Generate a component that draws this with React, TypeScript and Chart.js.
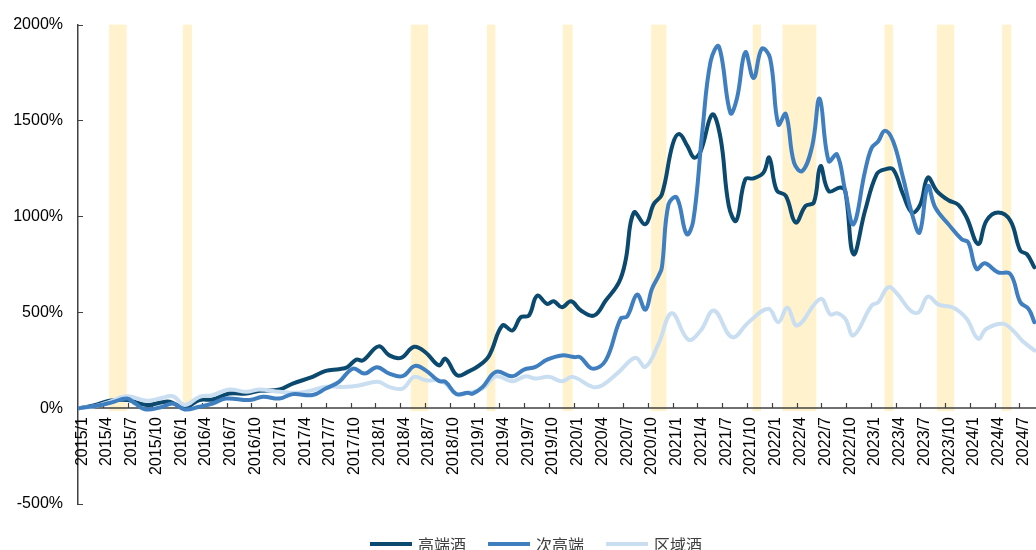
import React, { useEffect, useRef } from 'react';
import { Chart, registerables } from 'chart.js';

Chart.register(...registerables);

// Months on the horizontal axis, counted from the start of 2015/1 (2015/1 .. 2024/8)
const monthCount = 116;

// Quarterly tick labels (each sits on the first month of its quarter)
const quarterLabels: string[] = [
  '2015/1', '2015/4', '2015/7', '2015/10',
  '2016/1', '2016/4', '2016/7', '2016/10',
  '2017/1', '2017/4', '2017/7', '2017/10',
  '2018/1', '2018/4', '2018/7', '2018/10',
  '2019/1', '2019/4', '2019/7', '2019/10',
  '2020/1', '2020/4', '2020/7', '2020/10',
  '2021/1', '2021/4', '2021/7', '2021/10',
  '2022/1', '2022/4', '2022/7', '2022/10',
  '2023/1', '2023/4', '2023/7', '2023/10',
  '2024/1', '2024/4', '2024/7',
];

const seriesNames = ['高端酒', '次高端', '区域酒'];

// Cumulative return (%), [month position, value]
const highEnd: [number, number][] = [
  [0.2, 0], [2.0, 15], [3.8, 38], [6.0, 42], [8.3, 16], [9.9, 28], [11.1, 33], [12.9, 2],
  [14.7, 42], [16.3, 45], [18.3, 76], [20.4, 76], [22.0, 90], [24.4, 97], [26.0, 128],
  [28.4, 163], [30.0, 194], [31.6, 203], [32.6, 213], [33.7, 253], [34.5, 249], [36.4, 322],
  [37.7, 275], [39.1, 262], [40.7, 320], [42.1, 290], [43.7, 223], [44.5, 258], [45.9, 171],
  [47.2, 189], [48.6, 223], [49.8, 275], [51.4, 431], [52.6, 405], [53.6, 474], [54.6, 483],
  [55.6, 587], [56.8, 544], [57.6, 557], [58.6, 526], [59.7, 557], [60.9, 509], [62.5, 483],
  [63.9, 561], [65.5, 656], [66.3, 769], [67.3, 1020], [68.7, 959], [69.7, 1063], [70.7, 1115],
  [72.0, 1375], [72.8, 1430], [73.8, 1366], [74.6, 1306], [75.4, 1340], [76.8, 1531],
  [77.8, 1409], [78.8, 1055], [79.7, 977], [80.8, 1193], [81.8, 1198], [83.0, 1228],
  [83.7, 1306], [84.6, 1136], [85.7, 1107], [86.9, 968], [88.1, 1055], [89.1, 1072],
  [89.9, 1262], [90.9, 1132], [92.3, 1150], [92.9, 1132], [93.9, 803], [95.3, 1029],
  [96.7, 1219], [97.7, 1245], [98.7, 1245], [99.9, 1115], [101.0, 1020], [102.0, 1063],
  [102.9, 1202], [104.0, 1132], [105.4, 1084], [106.6, 1060], [107.6, 994], [109.0, 856],
  [110.0, 977], [111.4, 1020], [112.9, 977], [114.1, 821], [114.9, 803], [115.8, 734],
];

const subHighEnd: [number, number][] = [
  [0.2, 0], [2.6, 15], [4.1, 30], [5.9, 50], [6.9, 25], [8.1, -6], [9.9, 3], [11.5, 24],
  [12.9, -7], [14.7, 7], [16.3, 24], [17.9, 50], [20.8, 42], [22.4, 59], [24.4, 50],
  [26.0, 73], [28.4, 68], [30.0, 102], [31.6, 137], [33.3, 206], [34.7, 180], [36.2, 213],
  [37.7, 180], [39.3, 167], [40.8, 220], [42.1, 197], [43.7, 141], [44.5, 137], [45.8, 74],
  [47.2, 80], [47.8, 76], [49.0, 111], [50.6, 189], [52.6, 166], [54.0, 201], [55.4, 215],
  [56.8, 253], [58.6, 275], [60.1, 266], [60.8, 266], [62.3, 206], [63.9, 249], [65.7, 466],
  [66.5, 478], [67.7, 592], [68.7, 513], [69.5, 622], [70.3, 690], [70.7, 734], [71.5, 1063],
  [72.5, 1098], [73.7, 907], [74.5, 977], [75.6, 1444], [76.6, 1808], [77.6, 1886],
  [79.0, 1539], [79.8, 1617], [80.8, 1856], [81.8, 1721], [82.8, 1874], [83.8, 1825],
  [84.8, 1479], [85.7, 1534], [86.7, 1280], [87.7, 1236], [88.9, 1366], [89.8, 1614],
  [90.9, 1288], [91.9, 1323], [92.9, 1132], [93.9, 959], [95.3, 1236], [96.1, 1357],
  [96.9, 1392], [97.7, 1447], [98.7, 1392], [99.9, 1202], [101.0, 1011], [101.9, 916],
  [102.9, 1158], [103.8, 1046], [105.4, 959], [107.0, 881], [107.8, 864], [108.8, 726],
  [109.8, 755], [111.4, 708], [112.9, 699], [114.1, 552], [115.1, 518], [115.8, 448],
];

const regional: [number, number][] = [
  [0.2, 0], [2.0, 10], [3.8, 33], [5.9, 62], [8.3, 38], [9.9, 50], [11.5, 62], [12.9, 16],
  [14.7, 59], [16.3, 68], [18.3, 97], [20.4, 85], [22.0, 97], [24.4, 85], [26.8, 80],
  [28.4, 94], [30.0, 111], [32.5, 111], [34.1, 119], [36.3, 137], [37.7, 111], [39.3, 102],
  [40.7, 163], [42.1, 145], [43.7, 145], [44.5, 128], [45.8, 73], [47.3, 80], [49.0, 102],
  [50.6, 166], [52.6, 140], [54.2, 166], [55.4, 154], [57.0, 163], [58.6, 140], [59.9, 163],
  [62.3, 111], [63.5, 119], [65.5, 189], [67.5, 263], [68.7, 215], [70.3, 336], [71.9, 495],
  [73.9, 357], [75.4, 405], [77.0, 509], [79.2, 370], [81.2, 448], [83.6, 518], [84.8, 448],
  [85.9, 523], [87.1, 431], [89.9, 570], [91.1, 488], [91.9, 495], [92.9, 466], [93.9, 379],
  [96.1, 535], [96.9, 552], [98.1, 630], [99.2, 596], [100.8, 509], [101.8, 500],
  [102.9, 582], [104.2, 540], [106.0, 523], [107.6, 466], [109.0, 362], [110.0, 414],
  [112.0, 440], [113.2, 405], [114.3, 353], [115.8, 301],
];

// Highlighted periods, [start month, end month]
const shadedPeriods: [number, number][] = [
  [3.75, 5.9], [12.7, 13.8], [40.3, 42.4], [49.5, 50.55], [58.7, 59.9], [69.4, 71.25],
  [81.7, 82.7], [85.3, 89.4], [97.65, 98.7], [104.0, 106.1], [111.9, 113.0],
];

const yTicks = [-500, 0, 500, 1000, 1500, 2000];

const colors = ['#0B4A6E', '#3F7FC0', '#CADEF2'];
const bandColor = '#FFF2CC';
const axisColor = '#404040';
const latinFont = '"Liberation Sans", Arial, sans-serif';
const cjkFont = '"Noto Sans CJK SC", "Noto Sans", sans-serif';

const decorPlugin = {
  id: 'decor',
  beforeDatasetsDraw(chart: any) {
    const { ctx, scales } = chart;
    const x = scales.x;
    const y = scales.y;
    const top = y.getPixelForValue(2000);
    const zero = y.getPixelForValue(0);
    ctx.save();
    ctx.fillStyle = bandColor;
    for (const [a, b] of shadedPeriods) {
      const x0 = x.getPixelForValue(a);
      const x1 = x.getPixelForValue(b);
      ctx.fillRect(x0, top, x1 - x0, zero + 3 - top);
    }
    // horizontal axis along 0%
    ctx.strokeStyle = axisColor;
    ctx.lineWidth = 1.5;
    ctx.beginPath();
    ctx.moveTo(chart.chartArea.left, zero);
    ctx.lineTo(chart.chartArea.right, zero);
    ctx.stroke();
    ctx.lineWidth = 1.2;
    ctx.beginPath();
    for (let m = 3; m < monthCount; m += 3) {
      const px = Math.round(x.getPixelForValue(m)) + 0.5;
      ctx.moveTo(px, zero - 5);
      ctx.lineTo(px, zero);
    }
    // inward ticks on the value axis
    for (const v of yTicks) {
      const py = Math.round(y.getPixelForValue(v)) + 0.5;
      ctx.moveTo(chart.chartArea.left, py);
      ctx.lineTo(chart.chartArea.left + 5, py);
    }
    ctx.stroke();
    ctx.restore();
  },
  afterDraw(chart: any) {
    const { ctx, scales } = chart;
    const x = scales.x;
    const y = scales.y;
    const zero = y.getPixelForValue(0);
    ctx.save();
    // rotated quarter labels under the 0% axis
    ctx.fillStyle = '#000';
    ctx.font = `16px ${latinFont}`;
    ctx.textAlign = 'right';
    ctx.textBaseline = 'middle';
    quarterLabels.forEach((label, i) => {
      const px = x.getPixelForValue(i * 3 + 0.5);
      ctx.save();
      ctx.translate(px, zero + 9);
      ctx.rotate(-Math.PI / 2);
      ctx.fillText(label, 0, 0);
      ctx.restore();
    });
    // legend
    const legendY = 544;
    let lx = 370;
    ctx.font = `16px ${cjkFont}`;
    ctx.textAlign = 'left';
    ctx.textBaseline = 'middle';
    seriesNames.forEach((name, i) => {
      ctx.fillStyle = colors[i];
      ctx.fillRect(lx, legendY - 2, 42, 4);
      lx += 48;
      ctx.fillStyle = '#404040';
      ctx.fillText(name, lx, legendY + 1);
      lx += ctx.measureText(name).width + 22;
    });
    ctx.restore();
  },
};

export default function App() {
  const canvasRef = useRef<HTMLCanvasElement | null>(null);

  useEffect(() => {
    document.body.style.margin = '0';
    const canvas = canvasRef.current;
    if (!canvas) return;
    const toPoints = (arr: [number, number][]) => arr.map(([m, v]) => ({ x: m, y: v }));
    const allSeries = [highEnd, subHighEnd, regional];
    const drawOrder = [3, 1, 2];
    const chart = new Chart(canvas, {
      type: 'line',
      data: {
        datasets: allSeries.map((s, i) => ({
          label: seriesNames[i],
          data: toPoints(s),
          borderColor: colors[i],
          backgroundColor: colors[i],
          borderWidth: 4,
          pointRadius: 0,
          tension: 0.4,
          fill: false,
          order: drawOrder[i],
          borderJoinStyle: 'round' as const,
          borderCapStyle: 'round' as const,
        })),
      },
      options: {
        responsive: false,
        animation: false,
        events: [],
        layout: { padding: { top: 23, bottom: 46, left: 0, right: 0 } },
        plugins: {
          legend: { display: false },
          tooltip: { enabled: false },
        },
        scales: {
          x: {
            type: 'linear',
            min: 0,
            max: monthCount,
            display: false,
          },
          y: {
            min: -500,
            max: 2000,
            afterFit(scale: any) {
              scale.width = 78;
            },
            afterBuildTicks(scale: any) {
              scale.ticks = yTicks.map((v) => ({ value: v }));
            },
            ticks: {
              padding: 15,
              color: '#000',
              font: { family: latinFont, size: 16 },
              callback: (v: any) => `${v}%`,
            },
            grid: { display: false, drawTicks: false },
            border: { display: true, color: axisColor, width: 1.5 },
          },
        },
      },
      plugins: [decorPlugin],
    });
    return () => chart.destroy();
  }, []);

  return (
    <div style={{ width: 1036, height: 550 }}>
      <canvas ref={canvasRef} width={1036} height={550} style={{ display: 'block' }} />
    </div>
  );
}
